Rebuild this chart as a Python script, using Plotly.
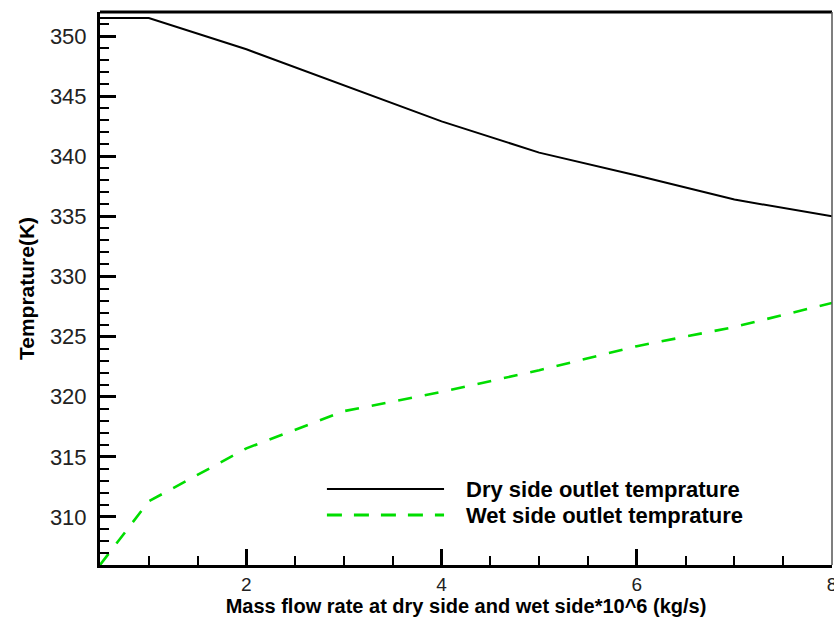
import plotly.graph_objects as go

# Mass flow rate (x10^6 kg/s)
mass_flow = [0.5, 1, 2, 3, 4, 5, 6, 7, 8]
# Outlet temperatures (K)
dry_outlet = [351.5, 351.5, 348.9, 345.9, 342.9, 340.3, 338.4, 336.4, 335.0]
wet_outlet = [306.0, 311.3, 315.7, 318.8, 320.4, 322.2, 324.2, 325.8, 327.8]

series_names = ["Dry side outlet temprature", "Wet side outlet temprature"]
x_title = "Mass flow rate at dry side and wet side*10^6 (kg/s)"
y_title = "Temprature(K)"

FONT = "Liberation Sans, Arial, sans-serif"
GREEN = "#00dd00"

fig = go.Figure()
fig.add_trace(go.Scatter(x=mass_flow, y=dry_outlet, mode="lines", name=series_names[0],
                         line=dict(color="black", width=2), showlegend=False))
fig.add_trace(go.Scatter(x=mass_flow, y=wet_outlet, mode="lines", name=series_names[1],
                         line=dict(color=GREEN, width=2.6, dash="14px,13px"), showlegend=False))

# Hand-drawn legend (long sample lines) inside the lower right of the plot
legend_rows = [
    (0.1374, dict(color="black", width=2)),
    (0.0904, dict(color=GREEN, width=3, dash="15px,12px")),
]
for (yy, ln), name in zip(legend_rows, series_names):
    fig.add_shape(type="line", xref="paper", yref="paper", x0=0.310, x1=0.470,
                  y0=yy, y1=yy, line=ln)
    fig.add_annotation(xref="paper", yref="paper", x=0.497, y=yy, text=name,
                       showarrow=False, xanchor="left", yanchor="middle",
                       font=dict(family=FONT, size=22, color="black", weight="bold"))

# Frame: heavy top edge, thin grey right edge
fig.add_shape(type="line", xref="paper", yref="paper", x0=0, x1=1, y0=1, y1=1,
              line=dict(color="black", width=3))
fig.add_shape(type="line", xref="paper", yref="paper", x0=1, x1=1, y0=0, y1=1,
              line=dict(color="#555555", width=1.5))

fig.update_xaxes(range=[0.5, 8], tickmode="array", tickvals=[2, 4, 6, 8],
                 ticks="inside", ticklen=16, tickwidth=2.5, tickcolor="black",
                 minor=dict(dtick=0.5, tick0=0, ticks="inside", ticklen=9, tickwidth=1.5,
                            tickcolor="black"),
                 showline=True, linecolor="black", linewidth=3, showgrid=False, zeroline=False,
                 ticklabeloverflow="allow", ticklabelstandoff=0, automargin=False,
                 tickfont=dict(family=FONT, size=19, color="#222222"),
                 title=dict(text=x_title, standoff=1,
                            font=dict(family=FONT, size=20, color="black", weight="bold")))
fig.update_yaxes(range=[306, 352], tickmode="array", tickvals=[310, 315, 320, 325, 330, 335, 340, 345, 350],
                 ticks="inside", ticklen=16, tickwidth=2.5, tickcolor="black",
                 minor=dict(dtick=1, tick0=0, ticks="inside", ticklen=9, tickwidth=1.5,
                            tickcolor="black"),
                 showline=True, linecolor="black", linewidth=3, showgrid=False, zeroline=False,
                 ticklabelstandoff=6, automargin=False,
                 tickfont=dict(family=FONT, size=22, color="#222222"),
                 title=dict(text=y_title, standoff=10,
                            font=dict(family=FONT, size=21, color="black", weight="bold")))

fig.update_layout(width=834, height=617, margin=dict(l=100, r=2, t=12, b=52),
                  paper_bgcolor="white", plot_bgcolor="white", showlegend=False)

fig.write_html("out.html")
